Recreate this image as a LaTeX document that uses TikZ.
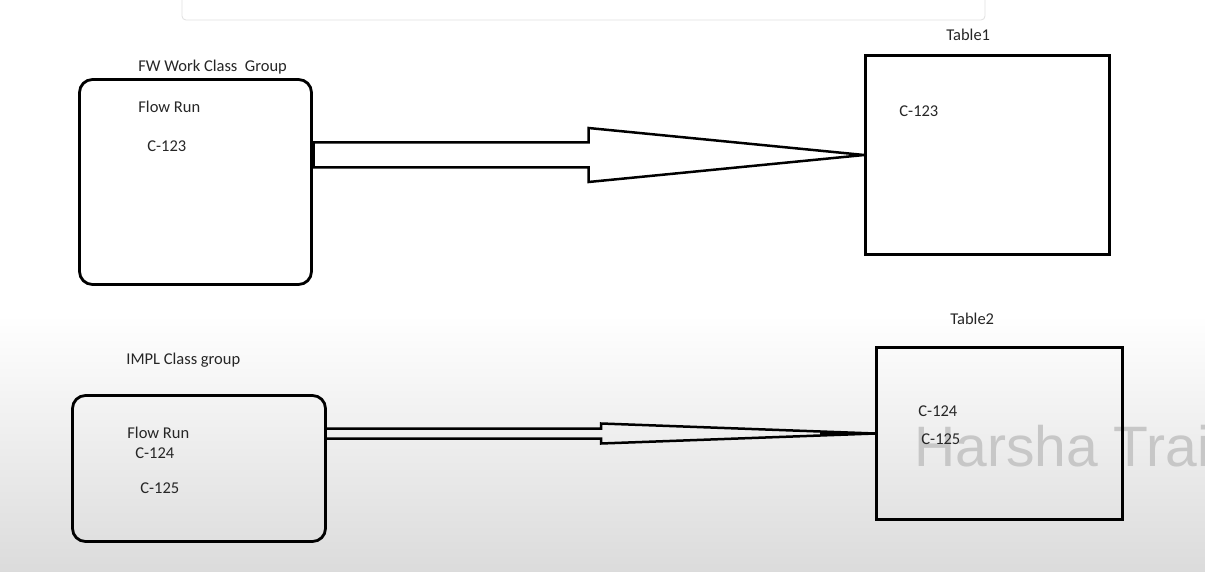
\documentclass[tikz,border=0pt]{standalone}
\usepackage{fontspec}
\setmainfont{Carlito}
\newfontfamily\wmfont{Liberation Sans}
\usetikzlibrary{calc,positioning}

\begin{document}
\begin{tikzpicture} [x=1pt, y=-1pt,
    line width=2.8pt,
    groupbox/.style={draw, rounded corners=13pt, inner sep=0pt},
    tablebox/.style={draw, inner sep=0pt},
    txt/.style={anchor=base west, inner sep=0pt, text=black!85, font=\fontsize{16.5}{19}\selectfont},
    blockarrow/.style={draw, line width=2.5pt, line join=miter, fill=none}]
  \useasboundingbox (0,0) rectangle (1205,572);
  % background
  \fill[white] (0,0) rectangle (1205,572);
  \fill[top color=white, bottom color=black!14, draw=none] (0,315) rectangle (1205,572);
  \fill[white, draw=black!12, line width=0.8pt, rounded corners=4pt] (182,-10) rectangle (985,20);
  \node[anchor=base west, inner sep=0pt, text=black!22, font=\wmfont\fontsize{57}{60}\selectfont] (wm) at (913,466) {Harsha Trai};

  % boxes
  \node[groupbox, minimum width=232pt, minimum height=205pt] (grp1) at (195.5,182) {};
  \node[tablebox, minimum width=244pt, minimum height=199pt] (tab1) at (987.5,155) {};
  \node[groupbox, minimum width=253pt, minimum height=146pt] (grp2) at (199,468.5) {};
  \node[tablebox, minimum width=246pt, minimum height=172pt] (tab2) at (999.5,433.5) {};

  % texts
  \node[txt] (grp1lbl) at (137,72)  {FW Work Class\ \ Group};
  \node[txt] (run1)    at (137,113) {Flow Run};
  \node[txt] (c1)      at (146,152) {C-123};
  \node[txt] (tab1lbl) at (945,41)  {Table1};
  \node[txt] (t1c1)    at (898,117) {C-123};

  \node[txt] (grp2lbl) at (125,364) {IMPL Class group};
  \node[txt] (run2)    at (126,438) {Flow Run};
  \node[txt] (c2)      at (134,458) {C-124};
  \node[txt] (c3)      at (139,493) {C-125};
  \node[txt] (tab2lbl) at (949,324) {Table2};
  \node[txt] (t2c2)    at (917,416) {C-124};
  \node[txt] (t2c3)    at (920,444) {C-125};

  % arrows
  \coordinate (a1s) at (grp1.east |- tab1.west);
  \coordinate (a1m) at ($(a1s)!0.5!(tab1.west)$);
  \draw[blockarrow] ($(a1s)+(0,-12.5)$) -- ($(a1m)+(0,-12.5)$) -- ($(a1m)+(0,-27)$)
    -- (tab1.west) -- ($(a1m)+(0,27)$) -- ($(a1m)+(0,12.5)$) -- ($(a1s)+(0,12.5)$);
  \draw[line width=4.5pt] ($(a1s)+(0,-13.5)$) -- ($(a1s)+(0,13.5)$);

  \coordinate (a2s) at (grp2.east |- tab2.west);
  \coordinate (a2m) at ($(a2s)!0.5!(tab2.west)$);
  \draw[blockarrow] ($(a2s)+(0,-5)$) -- ($(a2m)+(0,-5)$) -- ($(a2m)+(0,-10)$)
    -- (tab2.west) -- ($(a2m)+(0,10)$) -- ($(a2m)+(0,5)$) -- ($(a2s)+(0,5)$);
  \draw[line width=3.5pt] ($(tab2.west)+(-55,0)$) -- (tab2.west);
\end{tikzpicture}
\end{document}
